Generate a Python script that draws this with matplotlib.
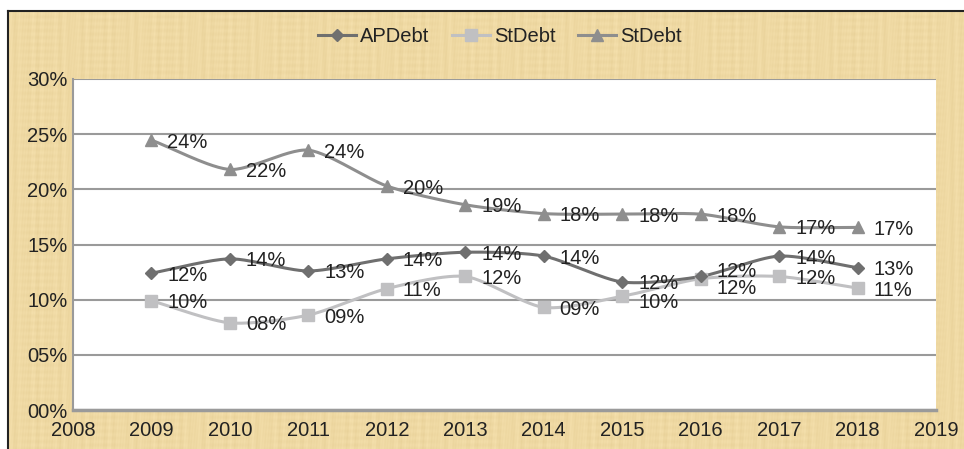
import numpy as np
import matplotlib
matplotlib.use("Agg")
import matplotlib.pyplot as plt
from matplotlib.patches import Rectangle
from matplotlib.lines import Line2D

plt.rcParams['font.family'] = ['Liberation Sans', 'DejaVu Sans']

years = [2009, 2010, 2011, 2012, 2013, 2014, 2015, 2016, 2017, 2018]
ap_debt = [12.4, 13.7, 12.6, 13.7, 14.3, 13.95, 11.6, 12.1, 13.95, 12.9]
st_debt = [9.9, 7.9, 8.6, 11.0, 12.1, 9.3, 10.3, 11.9, 12.1, 11.05]
st_debt2 = [24.46, 21.8, 23.55, 20.3, 18.6, 17.8, 17.75, 17.75, 16.6, 16.55]
series_names = ["APDebt", "StDebt", "StDebt"]
y_ticks = [0, 5, 10, 15, 20, 25, 30]
x_ticks = list(range(2008, 2020))

colors = ["#6f6f6f", "#c0c0c2", "#8e8e8e"]
markers = ["D", "s", "^"]
msizes = [6, 8, 9]
FS = 14.5


def smooth(x, y, n=30):
    # Catmull-Rom style smoothing for rendering (like Excel's smoothed line)
    x = np.asarray(x, float)
    y = np.asarray(y, float)
    px = np.concatenate([[2 * x[0] - x[1]], x, [2 * x[-1] - x[-2]]])
    py = np.concatenate([[2 * y[0] - y[1]], y, [2 * y[-1] - y[-2]]])
    ox, oy = [], []
    t = np.linspace(0, 1, n)
    for i in range(1, len(px) - 2):
        p0, p1, p2, p3 = [np.array([px[j], py[j]]) for j in range(i - 1, i + 3)]
        m1 = (p2 - p0) / 2 * 0.75
        m2 = (p3 - p1) / 2 * 0.75
        h00 = 2 * t**3 - 3 * t**2 + 1
        h10 = t**3 - 2 * t**2 + t
        h01 = -2 * t**3 + 3 * t**2
        h11 = t**3 - t**2
        pts = (np.outer(h00, p1) + np.outer(h10, m1) + np.outer(h01, p2) + np.outer(h11, m2))
        ox.extend(pts[:, 0])
        oy.extend(pts[:, 1])
    return np.array(ox), np.array(oy)


fig = plt.figure(figsize=(9.64, 4.49), dpi=100)
fig.patch.set_facecolor("white")

# parchment background
bg = Rectangle((8 / 964, 0), 1 - 8 / 964, 1 - 11 / 449, transform=fig.transFigure,
               facecolor="#efd9a3", edgecolor="none", zorder=0)
fig.add_artist(bg)
# subtle streak texture (deterministic)
tex_ax = fig.add_axes([8 / 964, 0, 1 - 8 / 964, 1 - 11 / 449], zorder=0)
xx = np.linspace(0, 1, 956)
yy = np.linspace(0, 1, 438)
X, Y = np.meshgrid(xx, yy)
pat = (0.5 * np.sin(X * 956 * 0.7) * np.sin(X * 956 * 0.13 + 1.0)
       + 0.3 * np.sin(Y * 438 * 0.9) * np.sin(X * 956 * 0.05)
       + 0.2 * np.sin(X * 956 * 2.3 + Y * 438 * 0.2))
base = np.array([0.937, 0.851, 0.640])
img = np.clip(base[None, None, :] + pat[..., None] * np.array([0.025, 0.03, 0.04]), 0, 1)
tex_ax.imshow(img, aspect="auto", extent=[0, 1, 0, 1])
tex_ax.axis("off")

fig.add_artist(Line2D([8 / 964, 8 / 964], [0, 1 - 11 / 449], transform=fig.transFigure,
                      color="#222222", lw=1.5, zorder=5))
fig.add_artist(Line2D([8 / 964, 1], [1 - 11 / 449, 1 - 11 / 449], transform=fig.transFigure,
                      color="#222222", lw=1.5, zorder=5))

ax = fig.add_axes([73 / 964, 39 / 449, (936 - 73) / 964, (410 - 79) / 449], zorder=2)
ax.set_facecolor("white")
ax.set_xlim(2008, 2019)
ax.set_ylim(0, 30)
ax.set_yticks(y_ticks)
ax.set_yticklabels([f"{v:02d}%" for v in y_ticks])
ax.set_xticks(x_ticks)
ax.set_xticklabels([str(v) for v in x_ticks])
ax.tick_params(length=0, labelsize=FS, colors="#222222")
ax.tick_params(axis="y", pad=4)
ax.tick_params(axis="x", pad=8)
for s in ["top", "right"]:
    ax.spines[s].set_visible(False)
ax.spines["left"].set_color("#9a9a9a")
ax.spines["left"].set_linewidth(1.5)
ax.spines["bottom"].set_color("#9a9a9a")
ax.spines["bottom"].set_linewidth(2.5)
ax.grid(axis="y", color="#9a9a9a", lw=1.5)
ax.set_axisbelow(True)

data = [ap_debt, st_debt, st_debt2]
order = [1, 0, 2]
# per-label vertical nudges (pixels) to avoid overlaps, as in the reference
nudges = {(0, 7): 7, (1, 7): -8, (1, 6): -4, (0, 6): 1}
handles = []
for i in order:
    vals = data[i]
    sx, sy = smooth(years, vals)
    ax.plot(sx, sy, color=colors[i], lw=2.2, zorder=3, solid_capstyle="round")
    ax.plot(years, vals, linestyle="none", marker=markers[i], ms=msizes[i],
            color=colors[i], zorder=4)
    for k, (xv, yv) in enumerate(zip(years, vals)):
        dy = -2 + nudges.get((i, k), 0)
        ax.annotate(f"{int(round(yv)):02d}%", (xv, yv), xytext=(16, dy),
                    textcoords="offset pixels", ha="left", va="center",
                    fontsize=FS, color="#222222", zorder=5)

for i in range(3):
    handles.append(Line2D([], [], color=colors[i], lw=2.2, marker=markers[i],
                          ms=msizes[i]))
fig.legend(handles, series_names, loc="center", bbox_to_anchor=(500 / 964, 1 - 37 / 449),
           ncol=3, frameon=False, fontsize=FS, handlelength=1.9, columnspacing=1.1,
           handletextpad=0.2, labelcolor="#222222")

fig.savefig("out.png", dpi=100)
